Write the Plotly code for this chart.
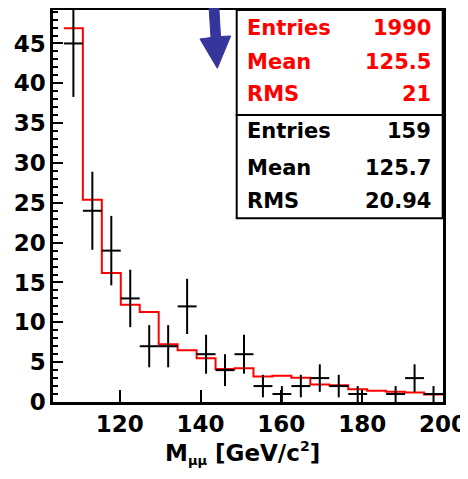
import numpy as np
import plotly.graph_objects as go

# ---- data ----
mass_low = 106.2
bin_width = 4.69
data_counts = [45, 24, 19, 13, 7, 7, 12, 6, 4, 6, 2, 1, 2, 3, 2, 1, 0, 1, 3, 1]
mc_values = [46.9, 25.4, 16.2, 12.2, 11.3, 7.25, 6.5, 5.5, 4.15, 4.25,
             3.2, 3.3, 3.05, 2.2, 2.1, 1.6, 1.4, 1.3, 1.2, 0.95]
y_ticks = [0, 5, 10, 15, 20, 25, 30, 35, 40, 45]
x_ticks = [120, 140, 160, 180, 200]
stats_mc = [("Entries", "1990"), ("Mean", "125.5"), ("RMS", "21")]
stats_data = [("Entries", "159"), ("Mean", "125.7"), ("RMS", "20.94")]
x_title = "M<sub><span style='font-size:13px'>μμ</span></sub> [GeV/c<sup><span style='font-size:14px'>2</span></sup>]"

n = len(data_counts)
edges = mass_low + bin_width * np.arange(n + 1)
centers = 0.5 * (edges[:-1] + edges[1:])

FONT = "DejaVu Sans, sans-serif"

fig = go.Figure()

# MC histogram (step line)
fig.add_trace(go.Scatter(
    x=list(edges), y=mc_values + [mc_values[-1]],
    mode="lines", line=dict(color="red", width=2, shape="hv"),
    showlegend=False, hoverinfo="skip"))

# data points with errors
yd = [c if c > 0 else None for c in data_counts]
fig.add_trace(go.Scatter(
    x=list(centers), y=yd, mode="markers",
    marker=dict(size=1, color="black"),
    error_x=dict(type="constant", value=bin_width / 2, width=0, thickness=2, color="black"),
    error_y=dict(type="data", array=[np.sqrt(c) for c in data_counts], width=0,
                 thickness=2, color="black"),
    showlegend=False))

axis_common = dict(showline=True, linecolor="black", linewidth=2.5, mirror=True,
                   showgrid=False, zeroline=False, ticks="inside", tickcolor="black",
                   tickwidth=2, automargin=False,
                   tickfont=dict(family=FONT, size=23, color="black", weight="bold"))

fig.update_xaxes(range=[103.5, 200], tickvals=x_ticks, ticklen=12, **axis_common)
fig.update_yaxes(range=[0, 49.2], tickvals=y_ticks, ticklen=10,
                 minor=dict(dtick=1, ticklen=5, ticks="inside", tickcolor="black", tickwidth=1.5),
                 **axis_common)

shapes = []
annotations = []

def px2paper(px, py):
    # window pixel -> paper coords (page body adds an 8px offset)
    return (px - 53) / 390.0, (402 - py) / 392.0

# x-axis title
tx, ty = px2paper(242, 436)
annotations.append(dict(text=x_title, x=tx, y=ty, xref="paper", yref="paper",
                        xanchor="center", yanchor="top", showarrow=False,
                        font=dict(family=FONT, size=23, color="black", weight="bold")))

# stats boxes
x0, _ = px2paper(236.7, 0)
x1, _ = px2paper(442.7, 0)
_, y_a = px2paper(0, 10)
_, y_b = px2paper(0, 115)
_, y_c = px2paper(0, 218.3)
for (ya, yb) in [(y_a, y_b), (y_b, y_c)]:
    shapes.append(dict(type="rect", xref="paper", yref="paper", x0=x0, x1=x1, y0=yb, y1=ya,
                       line=dict(color="black", width=2), fillcolor="white", layer="above"))

xl, _ = px2paper(245, 0)
xr, _ = px2paper(433, 0)
rows_y = [27.7, 61.7, 94.3, 131, 167.7, 201]
all_rows = [(s, "red") for s in stats_mc] + [(s, "black") for s in stats_data]
for (label_val, col), ry in zip(all_rows, rows_y):
    _, yy = px2paper(0, ry)
    for txt, xx, anc in [(label_val[0], xl, "left"), (label_val[1], xr, "right")]:
        annotations.append(dict(text=txt, x=xx, y=yy, xref="paper", yref="paper",
                                xanchor=anc, yanchor="middle", showarrow=False,
                                font=dict(family=FONT, size=21, color=col, weight="bold")))

# blue arrow
pts = [(208.5, -2), (218.3, -2), (220.5, 36.5), (230.7, 36), (217.3, 68.3), (200, 39), (211, 37.5)]
pp = [px2paper(a, b) for a, b in pts]
path = "M " + " L ".join(f"{a:.4f},{b:.4f}" for a, b in pp) + " Z"
shapes.append(dict(type="path", xref="paper", yref="paper", path=path,
                   fillcolor="#35359b", line=dict(color="#35359b", width=1), layer="above"))

fig.update_layout(width=460, height=471, margin=dict(l=45, r=25, t=2, b=77),
                  plot_bgcolor="white", paper_bgcolor="white",
                  shapes=shapes, annotations=annotations, showlegend=False)

fig.write_html("out.html")
